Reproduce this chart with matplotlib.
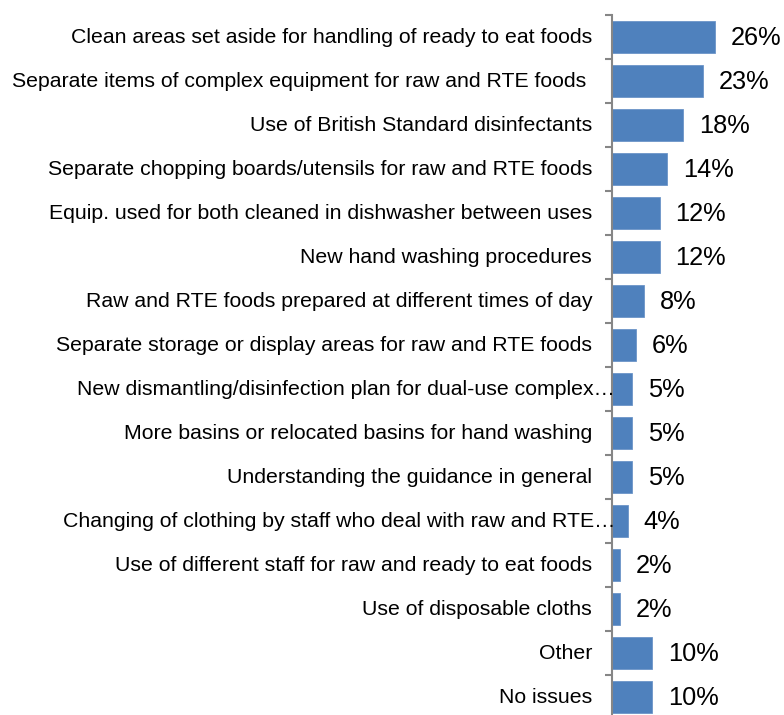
import numpy as np
import matplotlib.pyplot as plt
import matplotlib.transforms as mtransforms

plt.rcParams["font.family"] = ["Liberation Sans", "DejaVu Sans"]

categories = [
    "Clean areas set aside for handling of ready to eat foods",
    "Separate items of complex equipment for raw and RTE foods ",
    "Use of British Standard disinfectants",
    "Separate chopping boards/utensils for raw and RTE foods",
    "Equip. used for both cleaned in dishwasher between uses",
    "New hand washing procedures",
    "Raw and RTE foods prepared at different times of day",
    "Separate storage or display areas for raw and RTE foods",
    "New dismantling/disinfection plan for dual-use complex…",
    "More basins or relocated basins for hand washing",
    "Understanding the guidance in general",
    "Changing of clothing by staff who deal with raw and RTE…",
    "Use of different staff for raw and ready to eat foods",
    "Use of disposable cloths",
    "Other",
    "No issues",
]
percent = [26, 23, 18, 14, 12, 12, 8, 6, 5, 5, 5, 4, 2, 2, 10, 10]
truncated = {8, 11}

BAR_COLOR = "#4F81BD"
AXIS_COLOR = "#868686"

fig = plt.figure(figsize=(7.84, 7.15), dpi=100)
ax = fig.add_axes([612 / 784, -4 / 715, 172 / 784, 704 / 715])

n = len(categories)
y = np.arange(n)
ax.barh(y, percent, height=0.73, color=BAR_COLOR, edgecolor="#6C95C8", linewidth=0.6)

ax.set_xlim(0, 43.4)
ax.set_ylim(n - 0.5, -0.5)

for side in ["top", "right", "bottom"]:
    ax.spines[side].set_visible(False)
ax.spines["left"].set_color(AXIS_COLOR)
ax.spines["left"].set_linewidth(1.5)
ax.set_xticks([])

# tick marks sit between categories, labels are drawn as text
ax.set_yticks(np.arange(n + 1) - 0.5)
ax.set_yticklabels([])
ax.tick_params(axis="y", direction="out", length=5, width=1.5, color=AXIS_COLOR)

for i, (label, val) in enumerate(zip(categories, percent)):
    dx = 3 if i in truncated else -20
    off = mtransforms.ScaledTranslation(dx / 100, 0, fig.dpi_scale_trans)
    ax.text(0, i + 0.02, label, transform=ax.get_yaxis_transform() + off,
            ha="right", va="center", fontsize=15.3, color="black")
    ax.annotate(f"{val}%", xy=(val, i), xytext=(16, -1), textcoords="offset pixels",
                ha="left", va="center", fontsize=18.3, color="black")

fig.savefig("out.png", dpi=100)
